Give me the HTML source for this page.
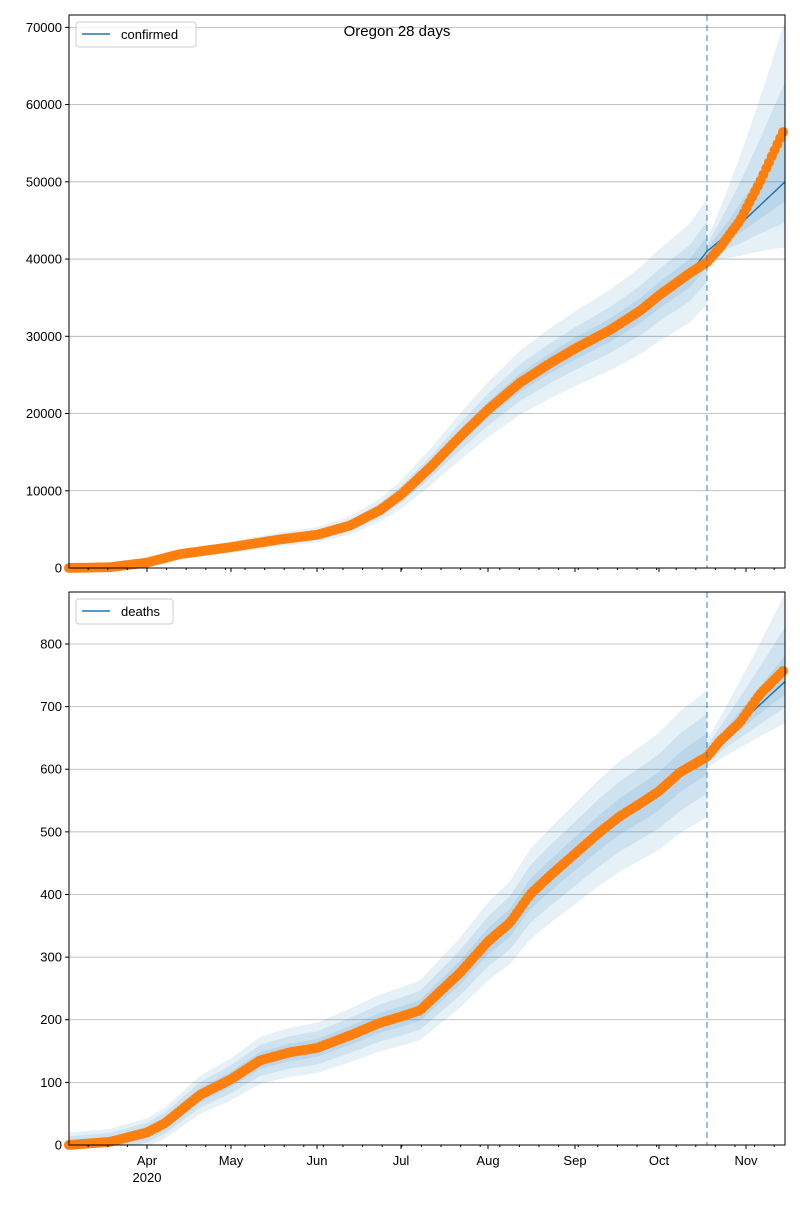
<!DOCTYPE html>
<html><head><meta charset="utf-8"><style>
body{margin:0;background:#fff;}
svg text{font-family:"Liberation Sans",sans-serif;font-size:13px;fill:#000}
</style></head><body>
<svg id="s" width="800" height="1200" xmlns="http://www.w3.org/2000/svg"></svg>
<script>
const S=document.getElementById('s');let h='';
const X0=69,X1=785,SPLIT=707;
function interp(pts,x){if(x<=pts[0][0])return pts[0][1];for(let i=1;i<pts.length;i++){if(x<=pts[i][0]){const a=pts[i-1],b=pts[i];return a[1]+(b[1]-a[1])*(x-a[0])/(b[0]-a[0]);}}return pts[pts.length-1][1];}
function panel(top,bot,vmax,ticks,data,model,label,absW,growU,growL,fr){
 const Y=v=>bot-(v/vmax)*(bot-top);
 for(const t of ticks){const y=Y(t);h+=`<line x1="${X0}" x2="${X1}" y1="${y}" y2="${y}" stroke="#b0b0b0" stroke-width="0.8"/>`;
  h+=`<line x1="${X0-4}" x2="${X0}" y1="${y}" y2="${y}" stroke="#000"/>`;
  h+=`<text x="${X0-7}" y="${y+4.5}" text-anchor="end">${t}</text>`;}
 const st=[0.035,0.02,0.008];
 for(let k=0;k<3;k++){
  let up=[],lo=[];
  const xs=[];for(let x=X0;x<=X1;x+=2)xs.push(x);
  xs.push(SPLIT);xs.push(SPLIT+0.01);xs.sort((a,b)=>a-b);
  for(const x of xs){
   let v=interp(model,x),fu,fl,a;
   if(x<=SPLIT){fu=fl=fr[k];a=absW*(1-k*0.3);}
   else{const t=(x-SPLIT)/(X1-SPLIT);const sc=[1,0.62,0.3][k];fu=st[k]+t*(growU*sc-st[k]);fl=st[k]+t*(growL*sc-st[k]);a=0;}
   up.push([x,Y(v*(1+fu)+a)]);lo.push([x,Y(Math.max(0,v*(1-fl)-a))]);
  }
  const pts=up.concat(lo.reverse()).map(p=>p[0].toFixed(2)+','+p[1].toFixed(1)).join(' ');
  h+=`<polygon points="${pts}" fill="#1f77b4" fill-opacity="0.11"/>`;
 }
 let mp=[];for(let x=X0;x<=X1;x+=2)mp.push(x+','+Y(interp(model,x)).toFixed(1));
 h+=`<polyline points="${mp.join(' ')}" fill="none" stroke="#1f77b4" stroke-width="1.5"/>`;
 for(let x=X0;x<=X1;x+=2.8){h+=`<circle cx="${x.toFixed(1)}" cy="${Y(interp(data,x)).toFixed(1)}" r="5" fill="#ff7f0e"/>`;}
 h+=`<line x1="${SPLIT}" x2="${SPLIT}" y1="${top}" y2="${bot}" stroke="#1f77b4" stroke-opacity="0.6" stroke-width="1.5" stroke-dasharray="6,4"/>`;
 h+=`<rect x="${X0}" y="${top}" width="${X1-X0}" height="${bot-top}" fill="none" stroke="#000" stroke-width="1"/>`;
 const months=[[147,'Apr'],[231,'May'],[317,'Jun'],[401,'Jul'],[488,'Aug'],[575,'Sep'],[659,'Oct'],[746,'Nov']];
 for(let x=147-2.8*7*11;x<=X1;x+=19.6){if(x>=X0)h+=`<line x1="${x}" x2="${x}" y1="${bot}" y2="${bot+2}" stroke="#000"/>`;}
 for(const [x,m] of months){h+=`<line x1="${x}" x2="${x}" y1="${bot}" y2="${bot+4}" stroke="#000"/>`;
  if(bot>1000)h+=`<text x="${x}" y="${bot+20}" text-anchor="middle">${m}</text>`;}
 if(bot>1000)h+=`<text x="147" y="${bot+37}" text-anchor="middle">2020</text>`;
 const w=label=='confirmed'?120:97;
 h+=`<rect x="76" y="${top+7}" width="${w}" height="25" rx="3" fill="#fff" fill-opacity="0.8" stroke="#ccc"/>`;
 h+=`<line x1="82" x2="110" y1="${top+19}" y2="${top+19}" stroke="#1f77b4" stroke-width="1.5"/>`;
 h+=`<text x="121" y="${top+24}">${label}</text>`;
}
const cData=[[69,0],[110,100],[147,700],[180,1800],[231,2700],[280,3700],[317,4300],[350,5500],[380,7500],[401,9500],[430,13000],[460,17000],[488,20500],[520,24000],[550,26500],[575,28400],[610,30800],[640,33300],[659,35300],[690,38200],[707,39600],[720,41500],[740,45000],[760,50000],[785,57000]];
const cModel=cData.slice(0,20).concat([[707,41000],[740,44500],[785,50000]]);
panel(15,568,71600,[0,10000,20000,30000,40000,50000,60000,70000],cData,cModel,'confirmed',300,0.42,0.17,[0.16,0.09,0.045]);
const dData=[[69,0],[110,5],[147,20],[165,35],[200,80],[231,105],[260,135],[290,148],[317,155],[350,175],[380,195],[401,205],[420,215],[440,245],[460,275],[488,325],[510,355],[530,400],[550,430],[575,465],[600,500],[620,525],[640,545],[659,565],[680,595],[707,620],[720,645],[740,675],[760,720],[785,760]];
const dModel=dData.slice(0,25).concat([[707,625],[785,740]]);
panel(592,1145,883,[0,100,200,300,400,500,600,700,800],dData,dModel,'deaths',20,0.19,0.09,[0.13,0.08,0.04]);
h+=`<text x="397" y="36" text-anchor="middle" style="font-size:15px">Oregon 28 days</text>`;
S.innerHTML=h;
</script>
</body></html>
